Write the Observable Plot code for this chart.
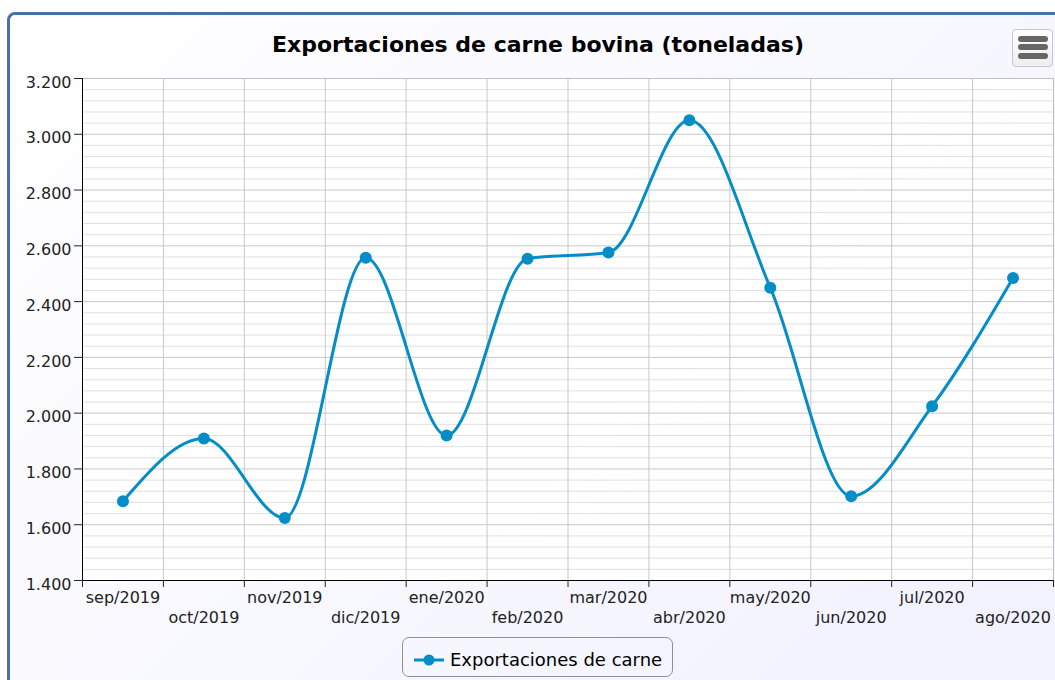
<!DOCTYPE html>
<html><head><meta charset="utf-8">
<script src="https://cdn.jsdelivr.net/npm/d3@7"></script>
<script src="https://cdn.jsdelivr.net/npm/@observablehq/plot@0.6"></script>
<style>
html,body{margin:0;padding:0;width:1055px;height:680px;overflow:hidden;background:#fff;font-family:"DejaVu Sans",sans-serif;}
#frame{position:absolute;left:7px;top:12px;width:1120px;height:740px;border:3px solid #4572A7;border-radius:8px;background:linear-gradient(135deg,#ffffff 0%,rgb(240,240,255) 100%);box-sizing:border-box;}
#chart{position:absolute;left:0;top:0;}
#title{position:absolute;left:0;width:1076px;top:34px;text-align:center;font-weight:bold;font-size:22px;line-height:22px;color:#000;white-space:nowrap;}
#menu{position:absolute;left:1012px;top:29px;width:41px;height:38px;box-sizing:border-box;border:1px solid #c8c8c8;border-radius:4px;background:linear-gradient(#ffffff,#eeeeee);}
#menu div{position:absolute;left:5px;width:30px;height:6px;border-radius:3px;background:#666;}
#legend{position:absolute;left:402px;top:637px;width:271px;height:40px;box-sizing:border-box;border:1px solid #909090;border-radius:7px;}
#legend svg{position:absolute;left:10px;top:15px;}
#legend span{position:absolute;left:47px;top:13px;font-size:18px;line-height:18px;color:#000;white-space:nowrap;}
</style>
</head>
<body>
<div id="frame"></div>
<div id="chart"></div>
<div id="title">Exportaciones de carne bovina (toneladas)</div>
<div id="menu"><div style="top:6px"></div><div style="top:14px"></div><div style="top:23px"></div></div>
<div id="legend"><svg width="32" height="14"><line x1="1" y1="7" x2="31" y2="7" stroke="#058DC7" stroke-width="3"/><circle cx="16" cy="7" r="5.5" fill="#058DC7"/></svg><span id="legendText"></span></div>
<script>
const seriesName = "Exportaciones de carne";
const months = ["sep/2019","oct/2019","nov/2019","dic/2019","ene/2020","feb/2020","mar/2020","abr/2020","may/2020","jun/2020","jul/2020","ago/2020"];
const exportsTons = [1684, 1909, 1624, 2557, 1920, 2554, 2576, 3050, 2450, 1702, 2025, 2485];
const yTicks = [1400, 1600, 1800, 2000, 2200, 2400, 2600, 2800, 3000, 3200];

document.getElementById("legendText").textContent = seriesName;

const data = months.map((m, i) => ({i, m, v: exportsTons[i]}));
const boundaries = months.map((m, i) => i - 0.5).concat([months.length - 0.5]);
const minorStep = (yTicks[1] - yTicks[0]) / 5;
const yMinor = yTicks.slice(0, -1).flatMap(t => [1, 2, 3, 4].map(k => t + k * minorStep));
const fmt = d3.formatLocale({decimal: ",", thousands: ".", grouping: [3], currency: ["", "€"]}).format(",");

const chart = Plot.plot({
  width: 1055, height: 680,
  marginLeft: 82, marginRight: 2, marginTop: 78, marginBottom: 100,
  x: {type: "linear", domain: [-0.5, months.length - 0.5], axis: null},
  y: {domain: [yTicks[0], yTicks[yTicks.length - 1]], axis: null},
  style: {background: "transparent", fontFamily: "DejaVu Sans", fontSize: "16px", overflow: "visible"},
  marks: [
    Plot.frame({fill: "white", fillOpacity: 0.9}),
    Plot.ruleY(yMinor, {stroke: "#E0E0E0", strokeOpacity: 1}),
    Plot.ruleY(yTicks, {stroke: "#C8C8C8", strokeOpacity: 1}),
    Plot.ruleX(boundaries, {stroke: "#C8C8C8", strokeOpacity: 1}),
    Plot.frame({stroke: "#C0C0C0"}),
    Plot.ruleY([yTicks[0]], {stroke: "#000"}),
    Plot.ruleX([boundaries[0]], {stroke: "#000"}),
    Plot.axisY({ticks: yTicks, tickSize: 8, tickFormat: () => "", label: null, color: "#222"}),
    Plot.axisY({ticks: yTicks, tickSize: 0, tickPadding: 11, dy: 4, tickFormat: fmt, label: null, color: "#222"}),
    Plot.axisX({ticks: boundaries, tickSize: 7, tickFormat: () => "", label: null, color: "#222"}),
    Plot.text(data.filter(d => d.i % 2 === 0), {x: "i", text: "m", frameAnchor: "bottom", dy: 22, fill: "#222"}),
    Plot.text(data.filter(d => d.i % 2 === 1), {x: "i", text: "m", frameAnchor: "bottom", dy: 42, fill: "#222"}),
    Plot.line(data, {x: "i", y: "v", curve: "monotone-x", stroke: "#058DC7", strokeWidth: 3}),
    Plot.dot(data, {x: "i", y: "v", r: 6, fill: "#058DC7"})
  ]
});
document.getElementById("chart").append(chart);
</script>
</body></html>
